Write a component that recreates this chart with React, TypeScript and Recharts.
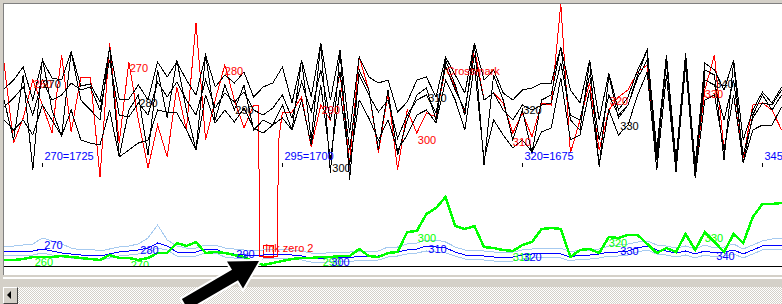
import React from 'react';
import { ComposedChart, Line, Scatter, XAxis, YAxis, ReferenceLine, ReferenceArea } from 'recharts';

const xValues = [266,267,268,269,270,271,272,273,274,275,276,277,278,279,280,281,282,283,284,285,286,287,288,289,290,291,292,293,294,295,296,297,298,299,300,301,302,303,304,305,306,307,308,309,310,311,312,313,314,315,316,317,318,319,320,321,322,323,324,325,326,327,328,329,330,331,332,333,334,335,336,337,338,339,340,341,342,343,344,345,346,347];

const bandTop = [177,186,199,166,206,188,186,214,180,182, 164,218,167,167,181,166,204,189,204,186, 171,211,179,191,183,194,169,179,183,199, 163,206,169,223,166,216,133,209,189,183, 186,154,164,186,189,169,209,191,173,223, 186,196,173,166,176,178,183,183,219,176, 163,206,146,193,156,169,196,216,116,211, 106,213,101,203,196,176,206,126,156,174, 163,179];
const bandMid = [159,168,179,151,186,166,171,183,176,179, 156,206,151,149,163,151,184,169,184,166, 151,186,158,173,164,174,156,151,158,171, 148,184,154,196,146,194,116,191,171,154, 166,128,151,166,171,153,200,176,156,211, 166,173,156,146,161,156,161,163,203,151, 146,191,126,171,151,161,188,206,106,204, 101,208,94,186,181,146,186,111,148,163, 161,176];
const bandLow = [146,136,146,131,161,146,130,156,126,123, 121,156,109,116,123,126,156,154,153,136, 116,171,143,156,144,158,138,133,141,148, 136,166,121,181,106,176,101,166,148,126, 146,116,131,151,156,143,186,166,136,201, 106,146,131,118,126,114,134,138,188,126, 131,176,101,156,131,141,171,194,96,191, 94,201,88,166,171,116,171,103,136,141, 141,159];
const rawBlack = [166,126,191,96,208,156,130,214,166,156, 146,219,109,156,171,111,196,148,206,156, 116,211,146,181,156,181,136,146,141,161, 136,206,126,223,93,216,86,196,176,116, 176,111,146,171,178,146,206,181,151,223, 101,191,166,126,156,113,166,171,219,146, 136,204,99,191,148,161,191,216,109,211, 96,213,89,196,191,106,204,103,151,171, 156,171];
const crossmark = [203,123,148,186,161,133,211,134,189,189, 89,223,123,204,146,98,141,109,179,136, 243,126,166,201,166,138,161,10,10,154, 154,169,119,161,146,193,103,209,176,113, 173,96,156,133,153,149,199,179,153,218, 166,173,163,133,153,129,163,161,262,113, 146,183,116,156,169,176,194,201,111,206, 103,209,96,176,211,116,171,108,161,163, 156,136];
const crossmarkDropX = [292.5, 292.65, 294.45, 294.6];
const crossmarkDropY = [161, 10, 10, 125];

const blueCenter = [15,15,15,15,17,15,13,12,11,11, 10,12,14,15,16,18,23,20,14,13, 14,17,17,13,12,11,11,11,12,12, 11,10,8,7,9,9,8,10,9,10, 13,14,16,17,20,19,18,14,11,11, 10,9,8,9,11,12,13,13,12,9, 11,11,12,14,14,15,18,20,16,15, 13,15,12,15,13,14,16,12,16,20, 21,21];
const blueUpper = [20,20,21,22,28,25,22,18,16,17, 15,17,19,20,22,28,41,26,20,18, 18,21,21,18,17,16,16,16,17,17, 16,15,13,12,14,14,14,15,15,15, 19,19,22,23,26,26,24,19,16,16, 15,14,13,14,16,17,18,18,18,14, 16,16,17,20,21,22,24,25,21,20, 18,20,17,21,18,19,22,17,21,25, 27,28];
const blueLower = [11,11,11,11,13,11,9,8,7,7, 6,8,10,11,12,14,18,16,10,9, 10,13,13,9,8,7,7,7,8,8, 7,6,4,3,5,5,4,6,5,6, 9,10,12,13,15,14,13,10,7,7, 6,5,4,5,7,8,9,9,8,5, 7,7,8,10,10,11,14,16,12,11, 9,11,8,11,9,10,12,8,12,16, 17,17];
const greenSeries = [6,6,7,9,9,9,10,9,8,7, 6,11,8,8,6,8,13,13,23,20, 24,13,14,13,11,9,4,1,3,5, 7,8,8,9,9,10,10,17,10,9, 13,14,34,35,52,58,69,40,37,40, 19,18,16,15,21,24,37,38,37,9, 16,17,13,29,28,31,31,22,13,18, 14,32,16,34,24,14,32,23,49,62, 62,63];

const blackLabelText = ['270','280','290','300','310','320','330','340'];
const blackLabelX = [270,280.1,290.1,300.2,310.2,320.1,330.2,340.1];
const blackLabelY = [182,163,156,98,168,156,140,182];

const redLabelText = ['260','270','280','290','300','Crossmark','310','320','330'];
const redLabelX = [269.1,279.1,289,299.1,309.1,312.1,319,329.1,339];
const redLabelY = [182,198,195,156,126,195,124,165,172];

const markerText = ['270=1725','295=1700','320=1675','345'];
const markerX = [270,295,320,345];
const markerY = [110,110,110,110];

const bottomBlueText = ['270','280','290','300','310','320','330','340'];
const bottomBlueX = [270.2,280.2,290.2,300.1,310.2,320.1,330.2,340.2];
const bottomBlueY = [21,16,12,4,17,9,15,10];

const bottomGreenText = ['260','270','290','300','310','320','330'];
const bottomGreenX = [269.2,279.2,299.2,309.1,319,329,339];
const bottomGreenY = [4,1,4,28,9,23,28];

const inkText = ['Ink zero 2'];
const inkX = [293.2];
const inkY = [18];

const rows = xValues.map((x, i) => ({
  x, a: bandTop[i], b: bandMid[i], c: bandLow[i], d: rawBlack[i],
  bc: blueCenter[i], bu: blueUpper[i], bl: blueLower[i], g: greenSeries[i],
}));
const redRows = [
  ...xValues.map((x, i) => ({ x, r: crossmark[i] })),
  ...crossmarkDropX.map((x, i) => ({ x, r: crossmarkDropY[i] })),
].sort((p, q) => p.x - q.x);

const mk = (t: string[], xs: number[], ys: number[]) => t.map((text, i) => ({ x: xs[i], y: ys[i], text }));
const blackLabels = mk(blackLabelText, blackLabelX, blackLabelY);
const redLabels = mk(redLabelText, redLabelX, redLabelY);
const markers = mk(markerText, markerX, markerY);
const bBlue = mk(bottomBlueText, bottomBlueX, bottomBlueY);
const bGreen = mk(bottomGreenText, bottomGreenX, bottomGreenY);
const ink = mk(inkText, inkX, inkY);

const FONT = '"Liberation Sans", Arial, sans-serif';

const textShape = (color: string) => (props: any) => {
  const { cx, cy, payload } = props;
  if (cx == null || cy == null) return <g />;
  return (
    <text x={cx} y={cy} fill={color} fontSize={11} fontFamily={FONT} dominantBaseline="central">
      {payload.text}
    </text>
  );
};

const markerShape = (props: any) => {
  const { cx, cy, payload } = props;
  if (cx == null || cy == null) return <g />;
  return (
    <g>
      <line x1={cx} x2={cx} y1={cy + 7} y2={cy + 11} stroke="#000" strokeWidth={1} />
      <text x={cx + 2} y={cy} fill="#0000ff" fontSize={11} fontFamily={FONT} dominantBaseline="central">
        {payload.text}
      </text>
    </g>
  );
};

// arrow annotation geometry
const arrowPts = '259,261 243,288.6 238,280.2 187.9,309.4 181.9,299 232,269.8 227,261.4';

export default function App() {
  const lineProps = { type: 'linear' as const, dot: false, activeDot: false, isAnimationActive: false };
  return (
    <div style={{ position: 'fixed', left: 0, top: 0, width: 782, height: 304, background: '#d4d0c8', overflow: 'hidden' }}>
      <div style={{ position: 'absolute', left: 3, top: 3, width: 779, height: 272, background: '#fff', borderTop: '1px solid #808080', borderLeft: '1px solid #808080', boxSizing: 'border-box' }} />
      <div style={{ position: 'absolute', left: 3, top: 277, width: 779, height: 2, background: '#fff' }} />
      <div style={{ position: 'absolute', left: 18, top: 287, width: 764, height: 17, background: 'repeating-conic-gradient(#d4d0c8 0 25%, #ffffff 0 50%) 0 0 / 2px 2px' }} />
      <div style={{ position: 'absolute', left: 3, top: 287, width: 15, height: 17, background: '#d4d0c8', borderTop: '1px solid #fff', borderLeft: '1px solid #fff', borderRight: '1px solid #404040', borderBottom: '1px solid #404040', boxSizing: 'border-box' }} />
      <div style={{ position: 'absolute', left: 7, top: 291, width: 0, height: 0, borderTop: '4px solid transparent', borderBottom: '4px solid transparent', borderRight: '4px solid #000' }} />
      <div style={{ position: 'absolute', left: 4, top: 4, shapeRendering: 'crispEdges' } as any}>
        <ComposedChart width={778} height={271} data={rows} margin={{ top: 0, right: 0, bottom: 9, left: 0 }}>
          <XAxis type="number" dataKey="x" domain={[266, 347.04]} hide allowDataOverflow />
          <YAxis type="number" dataKey="y" domain={[0, 262]} hide allowDataOverflow />
          <ReferenceLine y={0} stroke="#000" strokeWidth={1} />
          <Line {...lineProps} dataKey="bu" stroke="#a6caf0" strokeWidth={1} />
          <Line {...lineProps} dataKey="bl" stroke="#a6caf0" strokeWidth={1} />
          <Line {...lineProps} dataKey="bc" stroke="#0000ff" strokeWidth={1} />
          <Line {...lineProps} dataKey="g" stroke="#00ff00" strokeWidth={2.5} />
          <Line {...lineProps} data={redRows} dataKey="r" stroke="#ff0000" strokeWidth={1} />
          <Line {...lineProps} dataKey="a" stroke="#000" strokeWidth={1} />
          <Line {...lineProps} dataKey="b" stroke="#000" strokeWidth={1} />
          <Line {...lineProps} dataKey="c" stroke="#000" strokeWidth={1} />
          <Line {...lineProps} dataKey="d" stroke="#000" strokeWidth={1} />
          <ReferenceArea x1={293.0} x2={294.1} y1={9} y2={21} stroke="#ff0000" strokeWidth={1} fill="none" fillOpacity={0} />
          <Scatter data={redLabels} dataKey="y" shape={textShape('#ff0000')} isAnimationActive={false} />
          <Scatter data={blackLabels} dataKey="y" shape={textShape('#000000')} isAnimationActive={false} />
          <Scatter data={markers} dataKey="y" shape={markerShape} isAnimationActive={false} />
          <Scatter data={bGreen} dataKey="y" shape={textShape('#00ff00')} isAnimationActive={false} />
          <Scatter data={bBlue} dataKey="y" shape={textShape('#0000ff')} isAnimationActive={false} />
          <Scatter data={ink} dataKey="y" shape={textShape('#ff0000')} isAnimationActive={false} />
        </ComposedChart>
      </div>
      <svg width={782} height={304} style={{ position: 'absolute', left: 0, top: 0, pointerEvents: 'none' }}>
        <polygon points={arrowPts} fill="#fff" stroke="#fff" strokeWidth={4} strokeLinejoin="miter" />
        <polygon points={arrowPts} fill="#000" />
      </svg>
    </div>
  );
}
